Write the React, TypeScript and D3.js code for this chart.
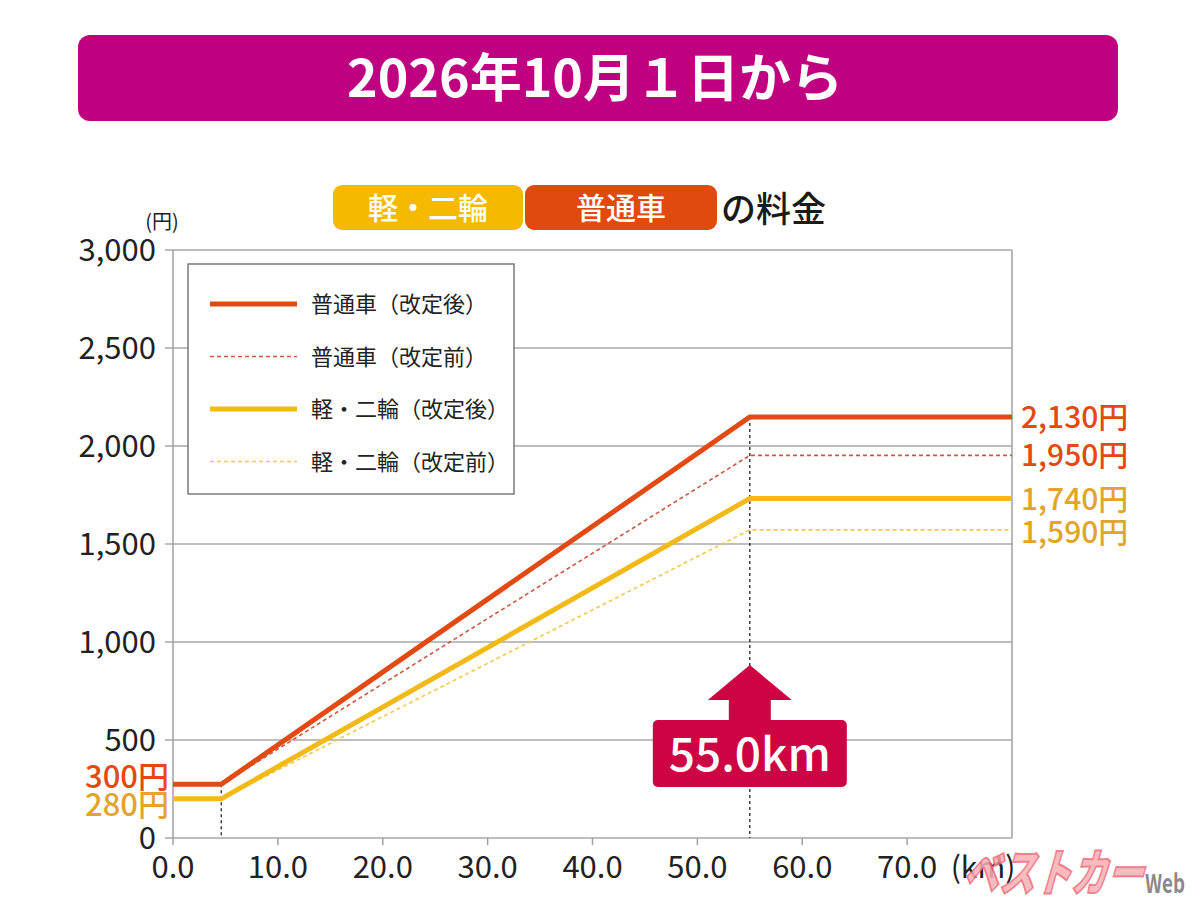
import React, { useEffect } from "react";
import * as d3 from "d3";

// distance breakpoints (km) and fares (yen)
const distanceKm = [0, 4.6, 55, 80];
const regularAfter = [274, 274, 2148, 2148];
const regularBefore = [274, 274, 1952, 1952];
const lightAfter = [200, 200, 1732, 1732];
const lightBefore = [200, 200, 1572, 1572];

const xTicks = [0, 10, 20, 30, 40, 50, 60, 70];
const yTicks = [0, 500, 1000, 1500, 2000, 2500, 3000];

const legendLabels = ["普通車（改定後）", "普通車（改定前）", "軽・二輪（改定後）", "軽・二輪（改定前）"];
const endLabels = ["2,130円", "1,950円", "1,740円", "1,590円"];
const startLabels = ["300円", "280円"];

const FONT = '"Noto Sans CJK JP", "Noto Sans", sans-serif';
const ORANGE = "#E24A12";
const ORANGE_DASH = "#C9583E";
const YELLOW = "#F3BA17";
const YELLOW_DASH = "#F0C94E";
const YELLOW_TEXT = "#E2A42A";

const App: React.FC = () => {
  useEffect(() => {
    document.body.style.margin = "0";
  }, []);

  const width = 1200;
  const height = 900;
  const margin = { top: 250, right: 188, bottom: 62, left: 173 };

  const x = d3.scaleLinear().domain([0, 80]).range([margin.left, width - margin.right]);
  const y = d3.scaleLinear().domain([0, 3000]).range([height - margin.bottom, margin.top]);

  const line = d3
    .line<number>()
    .x((_, i) => x(distanceKm[i]))
    .y((d) => y(d));

  const series = [
    { values: regularBefore, color: ORANGE_DASH, width: 1.6, dash: "4 3" },
    { values: lightBefore, color: YELLOW_DASH, width: 1.6, dash: "4 3" },
    { values: lightAfter, color: YELLOW, width: 5, dash: "" },
    { values: regularAfter, color: ORANGE, width: 5, dash: "" },
  ];

  const legendItems = [
    { label: legendLabels[0], color: ORANGE, width: 5, dash: "" },
    { label: legendLabels[1], color: ORANGE_DASH, width: 1.6, dash: "4 3" },
    { label: legendLabels[2], color: YELLOW, width: 5, dash: "" },
    { label: legendLabels[3], color: YELLOW_DASH, width: 1.6, dash: "4 3" },
  ];

  const endValues = [regularAfter[3], regularBefore[3], lightAfter[3], lightBefore[3]];
  const endColors = [ORANGE, ORANGE, YELLOW_TEXT, YELLOW_TEXT];
  const endOffsets = [11, 11, 11, 13];

  const x0 = x(0);
  const x1 = x(80);
  const yBottom = y(0);
  const yTop = y(3000);
  const xKink = x(distanceKm[1]);
  const xBreak = x(distanceKm[2]);

  return (
    <svg width={width} height={height} style={{ display: "block", fontFamily: FONT }}>
      <rect width={width} height={height} fill="#fff" />

      {/* title banner */}
      <rect x={78} y={35} width={1040} height={86} rx={12} fill="#BF0080" />
      <text x={595} y={97} textAnchor="middle" fill="#fff" fontSize={52} fontWeight={700}>
        2026年10月１日から
      </text>

      {/* chart heading */}
      <rect x={333} y={185} width={190} height={45} rx={9} fill="#F6B900" />
      <text x={428} y={219} textAnchor="middle" fill="#fff" fontSize={30} fontWeight={500}>
        軽・二輪
      </text>
      <rect x={525} y={185} width={192} height={45} rx={9} fill="#E14A0E" />
      <text x={621} y={219} textAnchor="middle" fill="#fff" fontSize={30} fontWeight={500}>
        普通車
      </text>
      <text x={721} y={222} fill="#1a1a1a" fontSize={35} fontWeight={500}>
        の料金
      </text>

      {/* grid */}
      {yTicks.map((t) => (
        <g key={t}>
          <line x1={x0 - 8} x2={x1} y1={y(t)} y2={y(t)} stroke="#A8A8A8" strokeWidth={1.5} />
          <text x={156} y={y(t) + 11} textAnchor="end" fontSize={31} fill="#222">
            {d3.format(",")(t)}
          </text>
        </g>
      ))}
      <line x1={x0} x2={x0} y1={yTop} y2={yBottom} stroke="#A0A0A0" strokeWidth={1.5} />
      <line x1={x1} x2={x1} y1={yTop} y2={yBottom} stroke="#A0A0A0" strokeWidth={1.5} />
      {xTicks.map((t) => (
        <g key={t}>
          <line x1={x(t)} x2={x(t)} y1={yBottom} y2={yBottom + 7} stroke="#A0A0A0" strokeWidth={1.5} />
          <text x={x(t)} y={878} textAnchor="middle" fontSize={31} fill="#222">
            {t.toFixed(1)}
          </text>
        </g>
      ))}
      <text x={983} y={878} textAnchor="middle" fontSize={30} fill="#222">
        (km)
      </text>
      <text x={162} y={229} textAnchor="middle" fontSize={20} fill="#222">
        (円)
      </text>

      {/* break lines */}
      <line x1={xKink} x2={xKink} y1={y(regularAfter[1])} y2={yBottom} stroke="#222" strokeWidth={1.3} strokeDasharray="3 3" />
      <line x1={xBreak} x2={xBreak} y1={y(regularAfter[2])} y2={yBottom} stroke="#222" strokeWidth={1.3} strokeDasharray="3 3" />

      {/* fare lines */}
      {series.map((s, i) => (
        <path
          key={i}
          d={line(s.values) ?? ""}
          fill="none"
          stroke={s.color}
          strokeWidth={s.width}
          strokeDasharray={s.dash || undefined}
        />
      ))}

      {/* end labels */}
      {endLabels.map((l, i) => (
        <text key={l} x={1021} y={y(endValues[i]) + endOffsets[i]} fontSize={30} fill={endColors[i]} fontWeight={500}>
          {l}
        </text>
      ))}

      {/* start labels */}
      <text x={169} y={788} textAnchor="end" fontSize={31} fill={ORANGE} fontWeight={500}>
        {startLabels[0]}
      </text>
      <text x={169} y={816} textAnchor="end" fontSize={31} fill={YELLOW_TEXT} fontWeight={500}>
        {startLabels[1]}
      </text>

      {/* legend */}
      <rect x={188} y={264} width={326} height={230} fill="#fff" stroke="#666" strokeWidth={1.3} />
      {legendItems.map((item, i) => {
        const ly = 304 + i * 52.5;
        return (
          <g key={item.label}>
            <line
              x1={210}
              x2={297}
              y1={ly}
              y2={ly}
              stroke={item.color}
              strokeWidth={item.width}
              strokeDasharray={item.dash || undefined}
            />
            <text x={311} y={ly + 8} fontSize={22} fill="#222">
              {item.label}
            </text>
          </g>
        );
      })}

      {/* 55.0km marker */}
      <path
        d={`M${xBreak},665 L${xBreak + 42},700 L${xBreak + 21},700 L${xBreak + 21},722 L${xBreak - 21},722 L${xBreak - 21},700 L${xBreak - 42},700 Z`}
        fill="#CE0343"
      />
      <rect x={xBreak - 97} y={720} width={194} height={67} rx={5} fill="#CE0343" />
      <text x={xBreak} y={771} textAnchor="middle" fill="#fff" fontSize={46} fontWeight={500}>
        55.0km
      </text>

      {/* watermark */}
      <g transform="translate(962,891) skewX(-16)" opacity={0.85}>
        <text
          x={0}
          y={0}
          fontSize={50}
          fontWeight={900}
          fill="#F7B0B6"
          stroke="#EE6A78"
          strokeWidth={2}
          textLength={180}
          lengthAdjust="spacingAndGlyphs"
        >
          ベストカー
        </text>
      </g>
      <text x={1145} y={893} fontSize={26} fontWeight={700} fill="#8a8a8a" textLength={40} lengthAdjust="spacingAndGlyphs">
        Web
      </text>
    </svg>
  );
};

export default App;
